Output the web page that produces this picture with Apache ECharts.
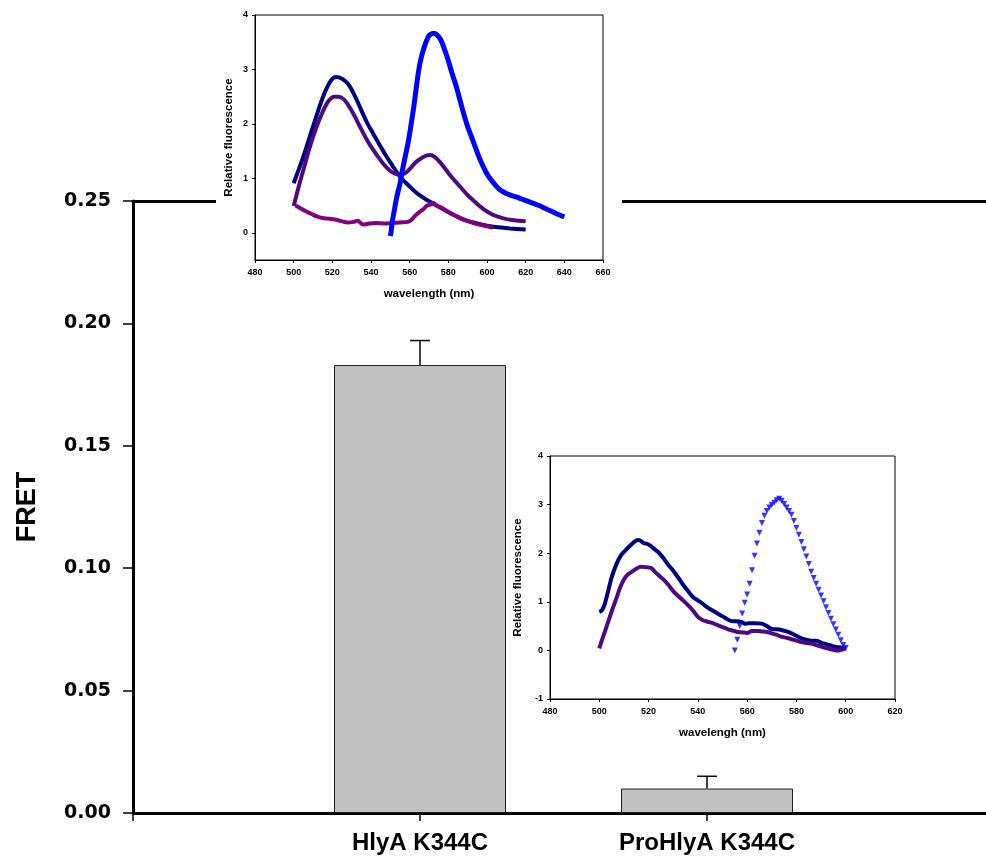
<!DOCTYPE html>
<html>
<head>
<meta charset="utf-8">
<script src="https://cdn.jsdelivr.net/npm/echarts@6/dist/echarts.min.js"></script>
<style>
  html, body { margin: 0; padding: 0; background: #fff; }
  #chart { width: 986px; height: 860px; }
</style>
</head>
<body>
<div id="chart"></div>
<script>
// main bars
const categories = ['HlyA K344C', 'ProHlyA K344C']
const fretValues = [0.183, 0.010]
const fretErrors = [0.010, 0.005]
const yTicks = [0, 0.05, 0.10, 0.15, 0.20, 0.25]

// inset 1 (HlyA) : [wavelength, relative fluorescence]
const hly_navy = [[500, 0.91], [505, 1.40], [510, 1.95], [515, 2.48], [519, 2.78], [522, 2.86], [525, 2.83], [528, 2.74], [531, 2.56], [534, 2.33], [538, 2.02], [541, 1.83], [545, 1.58], [548, 1.40], [551, 1.24], [555, 1.03], [560, 0.85], [564, 0.72], [570, 0.58], [576, 0.46], [582, 0.34], [588, 0.24], [594, 0.18], [600, 0.13], [606, 0.10], [612, 0.08], [620, 0.06]]
const hly_purple = [[500, 0.49], [503, 0.90], [506, 1.28], [509, 1.65], [512, 1.96], [515, 2.22], [518, 2.42], [521, 2.50], [523, 2.50], [526, 2.45], [529, 2.30], [532, 2.11], [535, 1.90], [538, 1.70], [541, 1.53], [545, 1.33], [548, 1.20], [551, 1.11], [554, 1.07], [557, 1.08], [560, 1.17], [563, 1.29], [566, 1.37], [569, 1.42], [571, 1.43], [574, 1.36], [577, 1.24], [580, 1.10], [583, 0.97], [586, 0.85], [590, 0.69], [594, 0.56], [598, 0.44], [603, 0.33], [608, 0.27], [614, 0.23], [620, 0.21]]
const hly_magenta = [[501, 0.50], [503, 0.46], [506, 0.40], [509, 0.35], [512, 0.30], [515, 0.27], [518, 0.26], [522, 0.24], [525, 0.21], [528, 0.19], [531, 0.20], [533, 0.22], [536, 0.15], [539, 0.17], [543, 0.18], [547, 0.17], [551, 0.18], [555, 0.19], [559, 0.20], [561, 0.24], [563, 0.32], [565, 0.38], [567, 0.43], [569, 0.50], [571, 0.52], [572, 0.55], [574, 0.50], [577, 0.45], [580, 0.38], [584, 0.31], [588, 0.24], [592, 0.19], [596, 0.15], [600, 0.12], [603, 0.09]]
const hly_blue = [[550, -0.06], [550.5, 0.05], [551, 0.20], [552, 0.40], [553, 0.60], [554, 0.76], [555, 0.90], [556, 1.10], [557, 1.28], [558, 1.45], [559, 1.62], [560, 1.82], [561, 2.05], [562, 2.28], [563, 2.55], [564, 2.82], [565, 3.05], [566, 3.22], [567, 3.35], [568, 3.46], [569, 3.55], [570, 3.62], [571, 3.65], [572, 3.66], [573, 3.66], [574, 3.64], [575, 3.60], [576, 3.55], [577, 3.47], [578, 3.37], [579, 3.27], [580, 3.16], [582, 2.92], [584, 2.70], [586, 2.44], [588, 2.18], [590, 1.95], [592, 1.76], [594, 1.57], [596, 1.38], [598, 1.22], [600, 1.08], [602, 0.98], [604, 0.89], [606, 0.81], [608, 0.76], [610, 0.72], [612, 0.69], [615, 0.66], [618, 0.62], [621, 0.58], [624, 0.54], [627, 0.50], [630, 0.45], [633, 0.40], [636, 0.35], [640, 0.29]]

// inset 2 (ProHlyA)
const pro_navy = [[500, 0.79], [501, 0.82], [502, 0.92], [503.5, 1.20], [505, 1.50], [507, 1.78], [509, 1.97], [511, 2.08], [513, 2.18], [515, 2.26], [516, 2.27], [518, 2.21], [520, 2.18], [522, 2.10], [524, 2.02], [526, 1.90], [528, 1.76], [530, 1.64], [532, 1.50], [534, 1.35], [536, 1.22], [538, 1.10], [540, 1.03], [542, 0.96], [544, 0.88], [546, 0.82], [548, 0.76], [550, 0.70], [552, 0.64], [554, 0.60], [556, 0.60], [558, 0.58], [559, 0.55], [561, 0.56], [563, 0.56], [566, 0.55], [568, 0.50], [570, 0.44], [573, 0.43], [576, 0.39], [578, 0.35], [580, 0.30], [582, 0.25], [584, 0.22], [586, 0.20], [588, 0.20], [590, 0.16], [592, 0.13], [594, 0.10], [596, 0.07], [598, 0.06], [600, 0.05]]
const pro_purple = [[500, 0.04], [501, 0.20], [502.5, 0.42], [504, 0.65], [505.5, 0.87], [507, 1.08], [508.5, 1.30], [510, 1.46], [511.5, 1.56], [513, 1.61], [515, 1.68], [517, 1.72], [519, 1.71], [521, 1.70], [522.5, 1.62], [524, 1.55], [526, 1.46], [528, 1.35], [530, 1.22], [532, 1.12], [534, 1.03], [536, 0.93], [538, 0.82], [540, 0.69], [542, 0.62], [544, 0.59], [546, 0.56], [548, 0.52], [550, 0.48], [552, 0.44], [554, 0.41], [556, 0.38], [558, 0.37], [560, 0.36], [562, 0.40], [564, 0.40], [566, 0.39], [568, 0.38], [570, 0.35], [572, 0.32], [574, 0.28], [576, 0.26], [578, 0.23], [580, 0.20], [582, 0.17], [584, 0.15], [586, 0.14], [588, 0.11], [590, 0.08], [592, 0.05], [594, 0.02], [596, 0.00], [598, 0.01], [600, 0.04]]
const pro_blue = [[555, 0.00], [556, 0.22], [557, 0.50], [558, 0.76], [559, 0.98], [560, 1.15], [561, 1.37], [562, 1.65], [563, 1.95], [564, 2.20], [565, 2.42], [566, 2.62], [567, 2.77], [568, 2.87], [569, 2.94], [570, 2.99], [571, 3.04], [572, 3.09], [573, 3.12], [574, 3.08], [575, 3.01], [576, 2.94], [577, 2.87], [578, 2.79], [579, 2.66], [580, 2.52], [581, 2.38], [582, 2.23], [583, 2.08], [584, 1.93], [585, 1.78], [586, 1.62], [587, 1.49], [588, 1.37], [589, 1.25], [590, 1.13], [591, 1.01], [592, 0.89], [593, 0.77], [594, 0.65], [595, 0.54], [596, 0.43], [597, 0.32], [598, 0.21], [599, 0.11], [600, 0.05]]

const insetYTicks = [0, 1, 2, 3, 4]

const chart = echarts.init(document.getElementById('chart'))

// category axis with blank slots at both ends so the axis runs on past the bars
const axisCats = [''].concat(categories, [''])
const barData = [null].concat(fretValues, [null])
const errData = categories.map((c, i) => [i + 1, fretValues[i], fretErrors[i]])

const insetFont = { fontFamily: 'Liberation Sans, Arial', fontWeight: 'bold', color: '#000' }

// axes for the small plots
const insetX = (gi, max, name) => ({
  type: 'value', gridIndex: gi, min: 480, max: max, interval: 20, z: 12,
  name: name, nameLocation: 'middle', nameGap: 28,
  nameTextStyle: Object.assign({ fontSize: 11.5 }, insetFont),
  axisLine: { onZero: false, lineStyle: { color: '#000', width: 1 } },
  axisTick: { length: 3, lineStyle: { color: '#000' } },
  axisLabel: Object.assign({ fontSize: 9, margin: 8 }, insetFont),
  splitLine: { show: false }
})
const insetY = (gi, min, custom, gap) => ({
  type: 'value', gridIndex: gi, min: min, max: 4, interval: 1, z: 12,
  name: 'Relative fluorescence', nameLocation: 'middle', nameGap: gap,
  nameTextStyle: Object.assign({ fontSize: 11.5 }, insetFont),
  axisLine: { show: true, onZero: false, lineStyle: { color: '#000', width: 1 } },
  axisTick: custom ? { show: true, length: 3, customValues: insetYTicks, lineStyle: { color: '#000' } } : { show: true, length: 3, lineStyle: { color: '#000' } },
  axisLabel: custom ? Object.assign({ fontSize: 9, margin: 7, customValues: insetYTicks }, insetFont) : Object.assign({ fontSize: 9, margin: 7 }, insetFont),
  splitLine: { show: false }
})
const curve = (xi, yi, data, color, width) => ({
  type: 'line', xAxisIndex: xi, yAxisIndex: yi, data: data,
  showSymbol: false, smooth: 0.3, z: 14, silent: true,
  lineStyle: { color: color, width: width }
})

const option = {
  animation: false,
  backgroundColor: '#fff',
  grid: [
    { left: 133, top: 201, width: 861, bottom: 47, outerBoundsMode: 'none' },
    { left: 255, top: 15, width: 348, height: 245, z: 11, show: true, borderColor: '#000', borderWidth: 1, backgroundColor: '#fff', outerBoundsMode: 'none' },
    { left: 550, top: 456, width: 345, height: 243, z: 11, show: true, borderColor: '#000', borderWidth: 1, backgroundColor: '#fff', outerBoundsMode: 'none' }
  ],
  // white patch behind the first inset (hides the top frame line there)
  graphic: [
    { type: 'rect', z: 5, shape: { x: 216, y: 0, width: 406, height: 310 }, style: { fill: '#fff' } }
  ],
  xAxis: [
    {
      type: 'category', gridIndex: 0, data: axisCats, boundaryGap: false, z: 1,
      axisLine: { lineStyle: { color: '#000', width: 3 } },
      axisTick: { length: 8, lineStyle: { color: '#000', width: 1.5 } },
      axisLabel: { fontFamily: 'Liberation Sans, Arial', fontWeight: 'bold', fontSize: 24, color: '#000', margin: 18, interval: 0 }
    },
    {
      type: 'category', gridIndex: 0, data: axisCats, boundaryGap: false, position: 'top', z: 1,
      axisLine: { lineStyle: { color: '#000', width: 3 } },
      axisTick: { show: false }, axisLabel: { show: false }
    },
    insetX(1, 660, 'wavelength (nm)'),
    insetX(2, 620, 'wavelengh (nm)')
  ],
  yAxis: [
    {
      type: 'value', gridIndex: 0, min: yTicks[0], max: yTicks[yTicks.length - 1], interval: 0.05, z: 1,
      name: 'FRET', nameLocation: 'middle', nameGap: 92,
      nameTextStyle: { fontFamily: 'Liberation Sans, Arial', fontWeight: 'bold', fontSize: 27, color: '#000' },
      axisLine: { show: true, lineStyle: { color: '#000', width: 3 } },
      axisTick: { show: true, length: 10, lineStyle: { color: '#000', width: 1.5 } },
      axisLabel: { fontFamily: 'DejaVu Sans', fontWeight: 'bold', fontSize: 19, color: '#000', margin: 22, formatter: (v) => v.toFixed(2) },
      splitLine: { show: false }
    },
    insetY(1, -0.5, true, 20),
    insetY(2, -1, false, 26)
  ],
  series: [
    {
      type: 'bar', xAxisIndex: 0, yAxisIndex: 0, data: barData, barWidth: 172, z: 2,
      itemStyle: { color: '#c0c0c0', borderColor: '#202020', borderWidth: 1 }
    },
    {
      // upper error bars
      type: 'custom', xAxisIndex: 0, yAxisIndex: 0, data: errData, z: 3,
      renderItem: function (params, api) {
        const base = api.coord([api.value(0), api.value(1)])
        const top = api.coord([api.value(0), api.value(1) + api.value(2)])
        const st = { stroke: '#000', lineWidth: 1.5 }
        return {
          type: 'group',
          children: [
            { type: 'line', shape: { x1: base[0], y1: base[1], x2: top[0], y2: top[1] }, style: st },
            { type: 'line', shape: { x1: top[0] - 10, y1: top[1], x2: top[0] + 10, y2: top[1] }, style: st }
          ]
        }
      }
    },
    curve(2, 1, hly_navy, '#000080', 4),
    curve(2, 1, hly_purple, '#4b0a80', 4),
    curve(2, 1, hly_magenta, '#800080', 4),
    curve(2, 1, hly_blue, '#0000ff', 5),
    curve(3, 2, pro_navy, '#000080', 4),
    curve(3, 2, pro_purple, '#4b0a80', 4),
    {
      type: 'scatter', xAxisIndex: 3, yAxisIndex: 2, data: pro_blue, z: 15, silent: true,
      symbol: 'triangle', symbolRotate: 180, symbolSize: 6,
      itemStyle: { color: '#0000ff' }
    }
  ]
}
chart.setOption(option)
</script>
</body>
</html>
